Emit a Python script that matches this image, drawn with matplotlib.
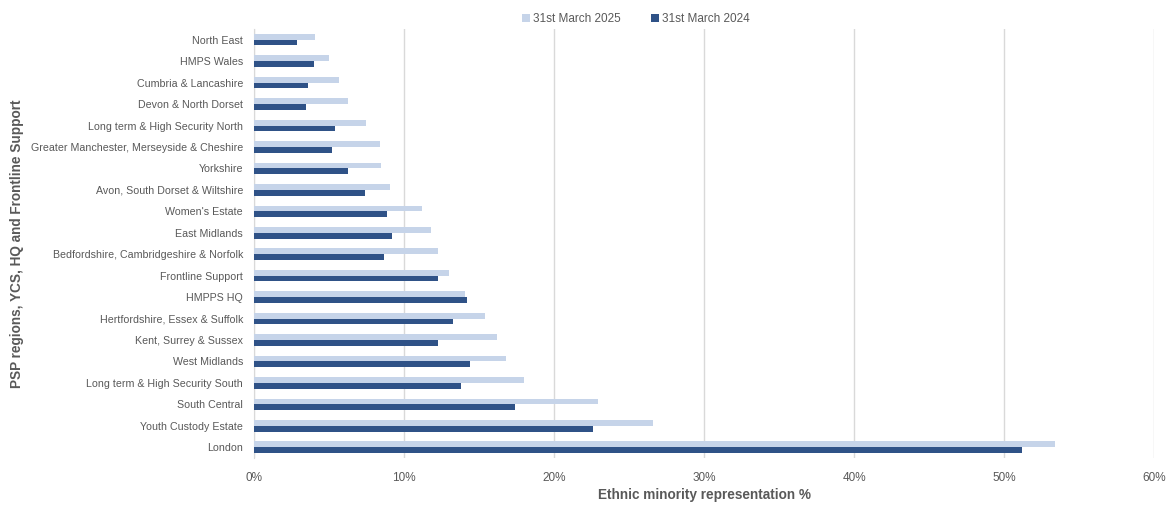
import matplotlib
matplotlib.use("Agg")
import matplotlib.pyplot as plt
import numpy as np
from matplotlib.ticker import PercentFormatter

regions = ["North East", "HMPS Wales", "Cumbria & Lancashire", "Devon & North Dorset",
           "Long term & High Security North", "Greater Manchester, Merseyside & Cheshire",
           "Yorkshire", "Avon, South Dorset & Wiltshire", "Women's Estate", "East Midlands",
           "Bedfordshire, Cambridgeshire & Norfolk", "Frontline Support", "HMPPS HQ",
           "Hertfordshire, Essex & Suffolk", "Kent, Surrey & Sussex", "West Midlands",
           "Long term & High Security South", "South Central", "Youth Custody Estate", "London"]
mar2025 = [4.1, 5.0, 5.7, 6.3, 7.5, 8.4, 8.5, 9.1, 11.2, 11.8,
           12.3, 13.0, 14.1, 15.4, 16.2, 16.8, 18.0, 22.9, 26.6, 53.4]
mar2024 = [2.9, 4.0, 3.6, 3.5, 5.4, 5.2, 6.3, 7.4, 8.9, 9.2,
           8.7, 12.3, 14.2, 13.3, 12.3, 14.4, 13.8, 17.4, 22.6, 51.2]

light = "#C6D4E9"
dark = "#2F5287"
grey = "#595959"
plt.rcParams['font.family'] = ['Liberation Sans', 'DejaVu Sans']

fig = plt.figure(figsize=(11.71, 5.12), dpi=100)
ax = fig.add_axes([0.2169, 0.1055, 0.7686, 0.8379])

y = np.arange(len(regions))
h = 0.27
ax.barh(y - h/2, mar2025, height=h, color=light, label="31st March 2025", zorder=3)
ax.barh(y + h/2, mar2024, height=h, color=dark, label="31st March 2024", zorder=3)

ax.set_ylim(len(regions) - 0.5, -0.5)
ax.set_xlim(0, 60)
ax.set_xticks(np.arange(0, 61, 10))
ax.xaxis.set_major_formatter(PercentFormatter(decimals=0))
ax.set_yticks(y)
ax.set_yticklabels(regions)
ax.tick_params(axis="both", length=0, colors=grey)
ax.tick_params(axis="x", pad=10, labelsize=8.5)
ax.tick_params(axis="y", pad=8, labelsize=7.7)
ax.grid(axis="x", color="#D9D9D9", linewidth=1, zorder=0)
for s in ["top", "right", "bottom"]:
    ax.spines[s].set_visible(False)
ax.spines["left"].set_color("#D9D9D9")

ax.set_xlabel("Ethnic minority representation %", fontsize=9.8, fontweight="bold", color=grey, va="center")
ax.xaxis.set_label_coords(0.5, -0.086)
ax.set_ylabel("PSP regions, YCS, HQ and Frontline Support", fontsize=9.8, fontweight="bold", color=grey,
              va="center", ha="center")
ax.yaxis.set_label_coords(-0.263, 0.5)

leg = fig.legend(loc="upper center", bbox_to_anchor=(0.543, 0.995), ncol=2, frameon=False,
                 fontsize=8.5, handlelength=0.7, handleheight=0.7, columnspacing=2.5, handletextpad=0.3)
for t in leg.get_texts():
    t.set_color(grey)

fig.savefig("out.png", dpi=100)
